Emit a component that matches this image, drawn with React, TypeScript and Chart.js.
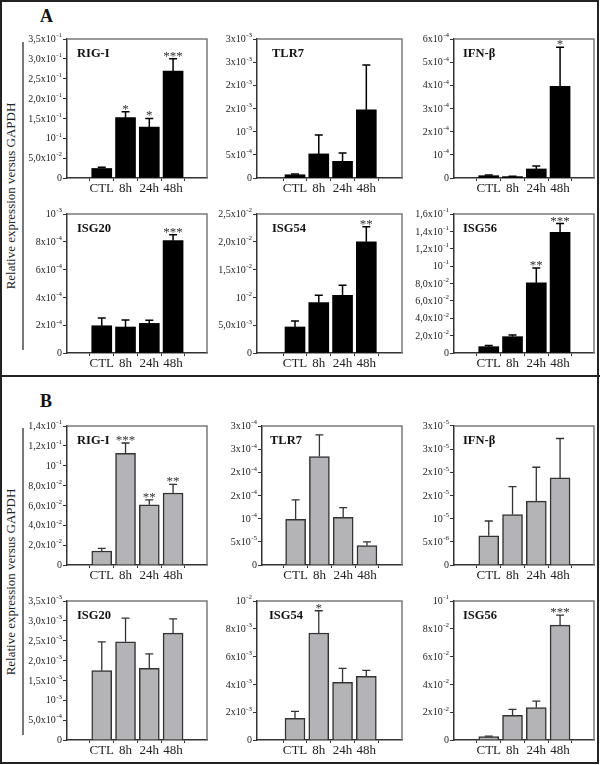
import React, { useEffect, useRef } from "react";
import { Chart, registerables } from "chart.js";

Chart.register(...registerables);

const SERIF = "'Liberation Serif', 'Times New Roman', serif";

// ---------- data ----------
const categories = ["CTL", "8h", "24h", "48h"];

// Panel A (black bars)
const aRigIMeans = [0.024, 0.152, 0.128, 0.269];
const aRigIErrs = [0.003, 0.015, 0.022, 0.031];
const aRigIStars = ["", "*", "*", "***"];
const aRigITicks = ["0", "5,0x10^-2", "10^-1", "1,5x10^-1", "2,0x10^-1", "2,5x10^-1", "3,0x10^-1", "3,5x10^-1"];
const aRigIMax = 0.35;

const aTlr7Means = [7e-5, 5.2e-4, 3.6e-4, 1.47e-3];
const aTlr7Errs = [1.5e-5, 4.1e-4, 1.8e-4, 9.7e-4];
const aTlr7Stars = ["", "", "", ""];
const aTlr7Ticks = ["0", "5x10^-4", "10^-3", "2x10^-3", "2x10^-3", "3x10^-3", "3x10^-3"];
const aTlr7Max = 3e-3;

const aIfnbMeans = [1e-5, 6e-6, 3.9e-5, 3.96e-4];
const aIfnbErrs = [3e-6, 2e-6, 1.3e-5, 1.68e-4];
const aIfnbStars = ["", "", "", "*"];
const aIfnbTicks = ["0", "10^-4", "2x10^-4", "3x10^-4", "4x10^-4", "5x10^-4", "6x10^-4"];
const aIfnbMax = 6e-4;

const aIsg20Means = [1.96e-4, 1.87e-4, 2.13e-4, 8.08e-4];
const aIsg20Errs = [5.6e-5, 5e-5, 2.2e-5, 4.3e-5];
const aIsg20Stars = ["", "", "", "***"];
const aIsg20Ticks = ["0", "2x10^-4", "4x10^-4", "6x10^-4", "8x10^-4", "10^-3"];
const aIsg20Max = 1e-3;

const aIsg54Means = [4.68e-3, 9.05e-3, 1.036e-2, 2.0e-2];
const aIsg54Errs = [1.08e-3, 1.35e-3, 1.84e-3, 2.7e-3];
const aIsg54Stars = ["", "", "", "**"];
const aIsg54Ticks = ["0", "5,0x10^-3", "10^-2", "1,5x10^-2", "2,0x10^-2", "2,5x10^-2"];
const aIsg54Max = 0.025;

const aIsg56Means = [7.3e-3, 1.88e-2, 8.09e-2, 0.1388];
const aIsg56Errs = [1.2e-3, 1.9e-3, 1.69e-2, 1.02e-2];
const aIsg56Stars = ["", "", "**", "***"];
const aIsg56Ticks = ["0", "2,0x10^-2", "4,0x10^-2", "6,0x10^-2", "8,0x10^-2", "10^-1", "1,2x10^-1", "1,4x10^-1", "1,6x10^-1"];
const aIsg56Max = 0.16;

// Panel B (grey bars)
const bRigIMeans = [0.0141, 0.1125, 0.0607, 0.0725];
const bRigIErrs = [0.0027, 0.0104, 0.0048, 0.0088];
const bRigIStars = ["", "***", "**", "**"];
const bRigITicks = ["0", "2,0x10^-2", "4,0x10^-2", "6,0x10^-2", "8,0x10^-2", "10^-1", "1,2x10^-1", "1,4x10^-1"];
const bRigIMax = 0.14;

const bTlr7Means = [9.86e-5, 2.34e-4, 1.03e-4, 4.17e-5];
const bTlr7Errs = [4.2e-5, 4.7e-5, 2.1e-5, 8e-6];
const bTlr7Stars = ["", "", "", ""];
const bTlr7Ticks = ["0", "5x10^-5", "10^-4", "2x10^-4", "2x10^-4", "3x10^-4", "3x10^-4"];
const bTlr7Max = 3e-4;

const bIfnbMeans = [6.3e-6, 1.09e-5, 1.38e-5, 1.88e-5];
const bIfnbErrs = [3.2e-6, 6e-6, 7.3e-6, 8.5e-6];
const bIfnbStars = ["", "", "", ""];
const bIfnbTicks = ["0", "5x10^-6", "10^-5", "2x10^-5", "2x10^-5", "3x10^-5", "3x10^-5"];
const bIfnbMax = 3e-5;

const bIsg20Means = [1.745e-3, 2.475e-3, 1.805e-3, 2.69e-3];
const bIsg20Errs = [7.25e-4, 5.95e-4, 3.65e-4, 3.6e-4];
const bIsg20Stars = ["", "", "", ""];
const bIsg20Ticks = ["0", "5,0x10^-4", "10^-3", "1,5x10^-3", "2,0x10^-3", "2,5x10^-3", "3,0x10^-3", "3,5x10^-3"];
const bIsg20Max = 3.5e-3;

const bIsg54Means = [1.56e-3, 7.7e-3, 4.15e-3, 4.58e-3];
const bIsg54Errs = [5e-4, 1.6e-3, 1.01e-3, 4.3e-4];
const bIsg54Stars = ["", "*", "", ""];
const bIsg54Ticks = ["0", "2x10^-3", "4x10^-3", "6x10^-3", "8x10^-3", "10^-2"];
const bIsg54Max = 0.01;

const bIsg56Means = [2.4e-3, 1.78e-2, 2.33e-2, 8.27e-2];
const bIsg56Errs = [4e-4, 4.3e-3, 4.7e-3, 7.2e-3];
const bIsg56Stars = ["", "", "", "***"];
const bIsg56Ticks = ["0", "2x10^-2", "4x10^-2", "6x10^-2", "8x10^-2", "10^-1"];
const bIsg56Max = 0.1;

// ---------- layout ----------
const PLOT_H = 139;
const Y_W = 62;
const PAD_T = 12;
const PAD_R = 4;
const X_H = 26;
const PX_PER_CAT = 31.7;

const COLS = [
  { left: 67, right: 207, firstCenter: 90 },
  { left: 257, right: 402, firstCenter: 283.5 },
  { left: 454, right: 594, firstCenter: 477 },
];
const ROW_TOPS = [39, 214, 426, 601];

type Style = { fill: string; border: string; borderWidth: number; err: string; errWidth: number };
const STYLE_A: Style = { fill: "#000000", border: "#000000", borderWidth: 0, err: "#000000", errWidth: 1.5 };
const STYLE_B: Style = { fill: "#b4b4b6", border: "#333333", borderWidth: 1.5, err: "#333333", errWidth: 1.3 };

type Panel = {
  title: string;
  means: number[];
  errs: number[];
  stars: string[];
  ticks: string[];
  yMax: number;
  row: number;
  col: number;
  leftOverride?: number;
  titleDx: number;
  style: Style;
};

const panels: Panel[] = [
  { title: "RIG-I", means: aRigIMeans, errs: aRigIErrs, stars: aRigIStars, ticks: aRigITicks, yMax: aRigIMax, row: 0, col: 0, titleDx: 10, style: STYLE_A },
  { title: "TLR7", means: aTlr7Means, errs: aTlr7Errs, stars: aTlr7Stars, ticks: aTlr7Ticks, yMax: aTlr7Max, row: 0, col: 1, titleDx: 15, style: STYLE_A },
  { title: "IFN-β", means: aIfnbMeans, errs: aIfnbErrs, stars: aIfnbStars, ticks: aIfnbTicks, yMax: aIfnbMax, row: 0, col: 2, titleDx: 9, style: STYLE_A },
  { title: "ISG20", means: aIsg20Means, errs: aIsg20Errs, stars: aIsg20Stars, ticks: aIsg20Ticks, yMax: aIsg20Max, row: 1, col: 0, titleDx: 10, style: STYLE_A },
  { title: "ISG54", means: aIsg54Means, errs: aIsg54Errs, stars: aIsg54Stars, ticks: aIsg54Ticks, yMax: aIsg54Max, row: 1, col: 1, titleDx: 15, style: STYLE_A },
  { title: "ISG56", means: aIsg56Means, errs: aIsg56Errs, stars: aIsg56Stars, ticks: aIsg56Ticks, yMax: aIsg56Max, row: 1, col: 2, titleDx: 9, style: STYLE_A },
  { title: "RIG-I", means: bRigIMeans, errs: bRigIErrs, stars: bRigIStars, ticks: bRigITicks, yMax: bRigIMax, row: 2, col: 0, titleDx: 10, style: STYLE_B },
  { title: "TLR7", means: bTlr7Means, errs: bTlr7Errs, stars: bTlr7Stars, ticks: bTlr7Ticks, yMax: bTlr7Max, row: 2, col: 1, leftOverride: 262, titleDx: 8, style: STYLE_B },
  { title: "IFN-β", means: bIfnbMeans, errs: bIfnbErrs, stars: bIfnbStars, ticks: bIfnbTicks, yMax: bIfnbMax, row: 2, col: 2, titleDx: 9, style: STYLE_B },
  { title: "ISG20", means: bIsg20Means, errs: bIsg20Errs, stars: bIsg20Stars, ticks: bIsg20Ticks, yMax: bIsg20Max, row: 3, col: 0, titleDx: 10, style: STYLE_B },
  { title: "ISG54", means: bIsg54Means, errs: bIsg54Errs, stars: bIsg54Stars, ticks: bIsg54Ticks, yMax: bIsg54Max, row: 3, col: 1, titleDx: 12, style: STYLE_B },
  { title: "ISG56", means: bIsg56Means, errs: bIsg56Errs, stars: bIsg56Stars, ticks: bIsg56Ticks, yMax: bIsg56Max, row: 3, col: 2, titleDx: 9, style: STYLE_B },
];

function drawTickLabel(ctx: CanvasRenderingContext2D, label: string, xRight: number, y: number) {
  const parts = label.split("^");
  const base = parts[0];
  const exp = parts[1];
  const baseFont = `10px ${SERIF}`;
  const expFont = `7px ${SERIF}`;
  ctx.textBaseline = "middle";
  ctx.textAlign = "left";
  let wExp = 0;
  if (exp) {
    ctx.font = expFont;
    wExp = ctx.measureText(exp).width + 0.5;
  }
  ctx.font = baseFont;
  const wBase = ctx.measureText(base).width;
  const x0 = xRight - wBase - wExp;
  ctx.fillText(base, x0, y + 0.5);
  if (exp) {
    ctx.font = expFont;
    ctx.fillText(exp, x0 + wBase + 0.5, y - 3.5);
  }
}

function makePlugin(p: Panel) {
  return {
    id: "panelDecor",
    afterDraw(chart: any) {
      const ctx: CanvasRenderingContext2D = chart.ctx;
      const area = chart.chartArea;
      const xs = chart.scales.x;
      const ys = chart.scales.y;
      ctx.save();
      // grey frame top & right
      ctx.strokeStyle = "#7a7a7a";
      ctx.lineWidth = 1.5;
      ctx.beginPath();
      ctx.moveTo(area.left, area.top);
      ctx.lineTo(area.right, area.top);
      ctx.lineTo(area.right, area.bottom);
      ctx.stroke();

      // y tick labels
      ctx.fillStyle = "#222";
      ys.ticks.forEach((t: any, i: number) => {
        const y = ys.getPixelForValue(t.value);
        drawTickLabel(ctx, p.ticks[i], area.left - 5, y);
      });

      // error bars (upper)
      ctx.strokeStyle = p.style.err;
      ctx.lineWidth = p.style.errWidth;
      p.means.forEach((m, i) => {
        const x = xs.getPixelForValue(i);
        const yb = ys.getPixelForValue(m);
        const yt = ys.getPixelForValue(m + p.errs[i]);
        ctx.beginPath();
        ctx.moveTo(x, yb);
        ctx.lineTo(x, yt);
        ctx.moveTo(x - 4, yt);
        ctx.lineTo(x + 4, yt);
        ctx.stroke();
      });

      // significance stars
      ctx.fillStyle = "#333";
      ctx.font = `13px ${SERIF}`;
      ctx.textAlign = "center";
      ctx.textBaseline = "alphabetic";
      p.stars.forEach((s, i) => {
        if (!s) return;
        const x = xs.getPixelForValue(i);
        const yt = ys.getPixelForValue(p.means[i] + p.errs[i]);
        ctx.fillText(s, x, yt + 1);
      });

      // panel title
      ctx.fillStyle = "#111";
      ctx.font = `bold 12.5px ${SERIF}`;
      ctx.textAlign = "left";
      ctx.fillText(p.title, area.left + p.titleDx, area.top + 18);
      ctx.restore();
    },
  };
}

function PanelChart({ p }: { p: Panel }) {
  const ref = useRef<HTMLCanvasElement>(null);
  const col = COLS[p.col];
  const plotLeft = p.leftOverride ?? col.left;
  const plotW = col.right - plotLeft;
  const plotTop = ROW_TOPS[p.row];
  const w = Math.round(plotW + Y_W + PAD_R);
  const h = PLOT_H + PAD_T + X_H;
  const xMin = -(col.firstCenter - plotLeft) / PX_PER_CAT;
  const xMax = xMin + (col.right - plotLeft) / PX_PER_CAT;
  const step = p.yMax / (p.ticks.length - 1);

  useEffect(() => {
    const chart = new Chart(ref.current as HTMLCanvasElement, {
      type: "bar",
      data: {
        datasets: [
          {
            data: p.means.map((v, i) => ({ x: i, y: v })) as any,
            backgroundColor: p.style.fill,
            borderColor: p.style.border,
            borderWidth: p.style.borderWidth,
            barThickness: 20,
          },
        ],
      },
      options: {
        animation: false,
        responsive: false,
        maintainAspectRatio: false,
        events: [],
        layout: { padding: { left: 0, top: PAD_T, right: PAD_R, bottom: 0 } },
        plugins: { legend: { display: false }, tooltip: { enabled: false } },
        scales: {
          x: {
            type: "linear",
            min: xMin,
            max: xMax,
            afterBuildTicks: (s: any) => {
              s.ticks = categories.map((_, i) => ({ value: i }));
            },
            afterFit: (s: any) => {
              s.height = X_H;
            },
            ticks: {
              callback: (v: any) => categories[v] ?? "",
              font: { family: SERIF, size: 13 },
              color: "#222",
              padding: 0,
              maxRotation: 0,
              autoSkip: false,
            },
            grid: { display: true, drawOnChartArea: false, drawTicks: true, tickLength: 3, color: "#333", lineWidth: 1 },
            border: { display: true, color: "#333", width: 1.5 },
          },
          y: {
            type: "linear",
            min: 0,
            max: p.yMax,
            afterBuildTicks: (s: any) => {
              s.ticks = p.ticks.map((_, i) => ({ value: i * step }));
            },
            afterFit: (s: any) => {
              s.width = Y_W;
            },
            ticks: { display: false },
            grid: { display: true, drawOnChartArea: false, drawTicks: true, tickLength: 4, color: "#333", lineWidth: 1 },
            border: { display: true, color: "#333", width: 1.5 },
          },
        },
      } as any,
      plugins: [makePlugin(p)],
    });
    return () => chart.destroy();
  }, []);

  return (
    <canvas
      ref={ref}
      width={w}
      height={h}
      style={{ position: "absolute", left: plotLeft - Y_W, top: plotTop - PAD_T, width: w, height: h }}
    />
  );
}

function YTitle({ cy }: { cy: number }) {
  const W = 240;
  const H = 16;
  return (
    <div
      style={{
        position: "absolute",
        left: 11 - W / 2,
        top: cy - H / 2,
        width: W,
        height: H,
        lineHeight: `${H}px`,
        textAlign: "center",
        fontFamily: SERIF,
        fontSize: 13,
        color: "#222",
        transform: "rotate(-90deg)",
        transformOrigin: "center center",
        whiteSpace: "nowrap",
      }}
    >
      Relative expression versus GAPDH
    </div>
  );
}

export default function App() {
  return (
    <div
      style={{
        position: "absolute",
        left: 0,
        top: 0,
        width: 600,
        height: 765,
        background: "#fff",
        overflow: "hidden",
      }}
    >
      <div
        style={{
          position: "absolute",
          left: 0,
          top: 0,
          width: 599,
          height: 764,
          boxSizing: "border-box",
          border: "2px solid #222",
        }}
      />
      <div style={{ position: "absolute", left: 0, top: 375, width: 600, height: 1.5, background: "#222" }} />
      <div style={{ position: "absolute", left: 40, top: 7, fontFamily: SERIF, fontWeight: "bold", fontSize: 18, lineHeight: "18px", color: "#111" }}>A</div>
      <div style={{ position: "absolute", left: 40, top: 392, fontFamily: SERIF, fontWeight: "bold", fontSize: 18, lineHeight: "18px", color: "#111" }}>B</div>
      <YTitle cy={196} />
      <YTitle cy={582} />
      <div style={{ position: "absolute", left: 22, top: 42, width: 1.5, height: 308, background: "#777" }} />
      <div style={{ position: "absolute", left: 22, top: 428, width: 1.5, height: 307, background: "#777" }} />
      {panels.map((p, i) => (
        <PanelChart key={i} p={p} />
      ))}
    </div>
  );
}
